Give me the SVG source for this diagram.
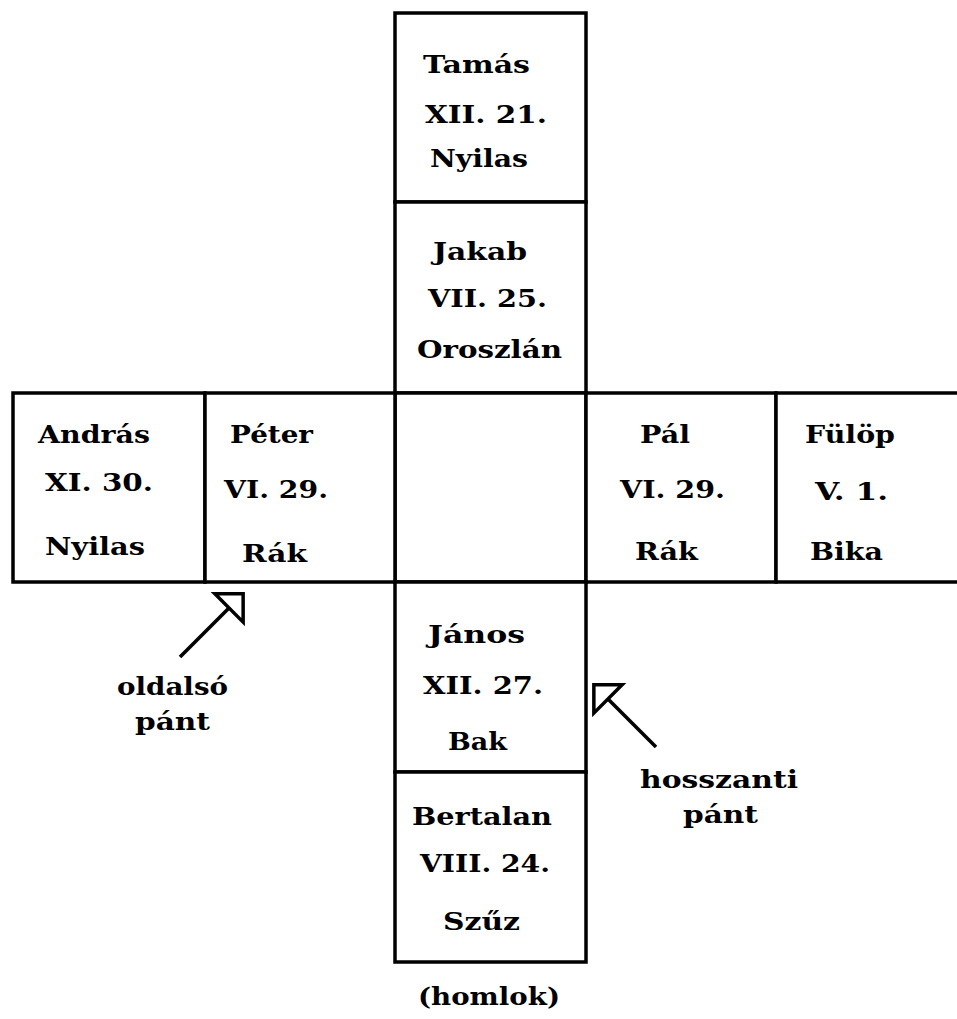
<svg xmlns="http://www.w3.org/2000/svg" width="957" height="1019" viewBox="0 0 957 1019">
<style>
.box{fill:#fff;stroke:#000;stroke-width:3.5}
text{font-family:"DejaVu Serif","Liberation Serif",serif;font-weight:bold;font-size:24px;fill:#000}
.conn{stroke:#000;stroke-width:3.5;fill:none}
</style>
<defs>
<marker id="openTri" markerUnits="userSpaceOnUse" viewBox="-3 -24 28 48" markerWidth="28" markerHeight="48" refX="0" refY="0" orient="auto" overflow="visible">
<path d="M0,-20 L20,0 L0,20 Z" fill="#fff" stroke="#000" stroke-width="3.5" stroke-linejoin="miter"/>
</marker>
</defs>
<rect width="957" height="1019" fill="#fff"/>
<g id="tamas"><rect class="box" x="395" y="13" width="191" height="189"/>
<text x="423" y="73" textLength="107" lengthAdjust="spacingAndGlyphs">Tamás</text>
<text x="425" y="123" textLength="122" lengthAdjust="spacingAndGlyphs">XII. 21.</text>
<text x="430" y="167" textLength="98" lengthAdjust="spacingAndGlyphs">Nyilas</text></g>
<g id="jakab"><rect class="box" x="395" y="202" width="191" height="191"/>
<text x="433" y="260" textLength="94" lengthAdjust="spacingAndGlyphs">Jakab</text>
<text x="428" y="307" textLength="119" lengthAdjust="spacingAndGlyphs">VII. 25.</text>
<text x="417" y="358" textLength="145" lengthAdjust="spacingAndGlyphs">Oroszlán</text></g>
<g id="center"><rect class="box" x="395" y="393" width="191" height="189"/></g>
<g id="andras"><rect class="box" x="13" y="393" width="192" height="189"/>
<text x="38" y="443" textLength="112" lengthAdjust="spacingAndGlyphs">András</text>
<text x="45" y="491" textLength="108" lengthAdjust="spacingAndGlyphs">XI. 30.</text>
<text x="45" y="555" textLength="100" lengthAdjust="spacingAndGlyphs">Nyilas</text></g>
<g id="peter"><rect class="box" x="205" y="393" width="190" height="189"/>
<text x="230" y="443" textLength="83" lengthAdjust="spacingAndGlyphs">Péter</text>
<text x="224" y="498" textLength="104" lengthAdjust="spacingAndGlyphs">VI. 29.</text>
<text x="242" y="562" textLength="65" lengthAdjust="spacingAndGlyphs">Rák</text></g>
<g id="pal"><rect class="box" x="586" y="393" width="190" height="189"/>
<text x="640" y="443" textLength="50" lengthAdjust="spacingAndGlyphs">Pál</text>
<text x="620" y="498" textLength="105" lengthAdjust="spacingAndGlyphs">VI. 29.</text>
<text x="635" y="560" textLength="63" lengthAdjust="spacingAndGlyphs">Rák</text></g>
<g id="fulop"><rect class="box" x="776" y="393" width="200" height="189"/>
<text x="805" y="443" textLength="90" lengthAdjust="spacingAndGlyphs">Fülöp</text>
<text x="815" y="500" textLength="73" lengthAdjust="spacingAndGlyphs">V. 1.</text>
<text x="810" y="560" textLength="73" lengthAdjust="spacingAndGlyphs">Bika</text></g>
<g id="janos"><rect class="box" x="395" y="582" width="191" height="190"/>
<text x="428" y="643" textLength="97" lengthAdjust="spacingAndGlyphs">János</text>
<text x="423" y="694" textLength="120" lengthAdjust="spacingAndGlyphs">XII. 27.</text>
<text x="448" y="750" textLength="59" lengthAdjust="spacingAndGlyphs">Bak</text></g>
<g id="bertalan"><rect class="box" x="395" y="772" width="191" height="190"/>
<text x="412" y="825" textLength="140" lengthAdjust="spacingAndGlyphs">Bertalan</text>
<text x="420" y="872" textLength="130" lengthAdjust="spacingAndGlyphs">VIII. 24.</text>
<text x="443" y="930" textLength="77" lengthAdjust="spacingAndGlyphs">Szűz</text></g>
<g id="homlok"><text x="418" y="1005" textLength="142" lengthAdjust="spacingAndGlyphs">(homlok)</text></g>
<g id="oldalso"><text x="117" y="695" textLength="111" lengthAdjust="spacingAndGlyphs">oldalsó</text>
<text x="135" y="730" textLength="75" lengthAdjust="spacingAndGlyphs">pánt</text></g>
<g id="hosszanti"><text x="640" y="788" textLength="158" lengthAdjust="spacingAndGlyphs">hosszanti</text>
<text x="683" y="823" textLength="75" lengthAdjust="spacingAndGlyphs">pánt</text></g>
<g id="connectors">
<line class="conn" x1="180" y1="657" x2="229" y2="608" marker-end="url(#openTri)"/>
<line class="conn" x1="656" y1="747" x2="608" y2="699" marker-end="url(#openTri)"/>
</g>
</svg>
